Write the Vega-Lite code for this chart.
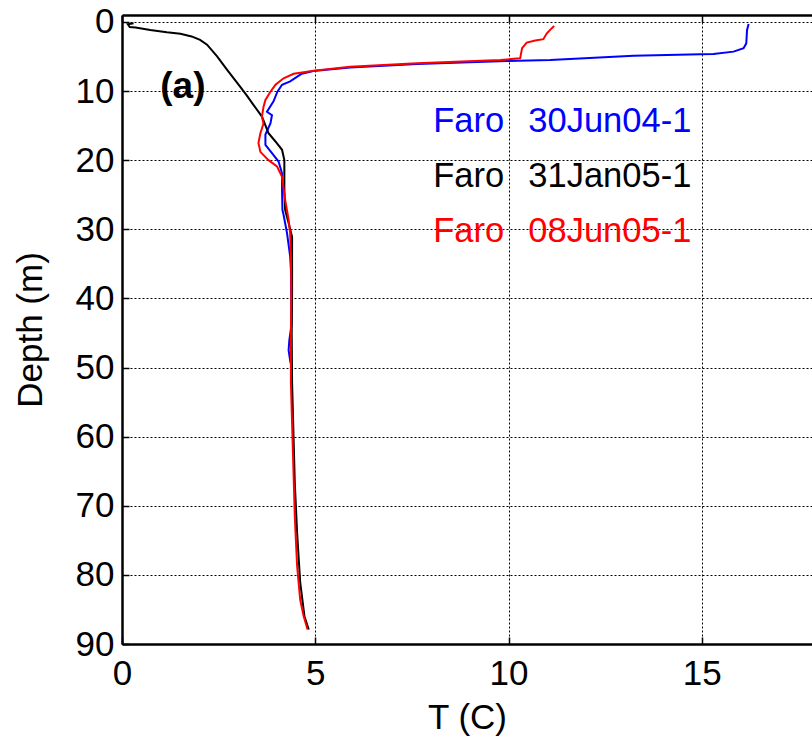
{
  "$schema": "https://vega.github.io/schema/vega-lite/v6.json",
  "width": 690,
  "height": 629,
  "autosize": {"type": "none"},
  "padding": {"left": 122, "top": 15, "right": 0, "bottom": 102},
  "background": "white",
  "config": {
    "view": {"stroke": null},
    "font": "Liberation Sans",
    "axis": {
      "labelFont": "Liberation Sans",
      "labelFontSize": 35,
      "labelColor": "black",
      "labelFlush": false,
      "labelOverlap": false,
      "titleFont": "Liberation Sans",
      "titleFontSize": 35,
      "titleFontWeight": "normal",
      "titleColor": "black",
      "domainColor": "black",
      "domainWidth": 2.5,
      "tickColor": "black",
      "tickWidth": 1.5,
      "tickSize": -7,
      "gridColor": "black",
      "gridDash": [2, 2],
      "gridWidth": 1,
      "gridOpacity": 1
    }
  },
  "datasets": {
    "profiles": [
      {"cast": "30Jun04-1", "T": 16.21, "depth": 0.3},
      {"cast": "30Jun04-1", "T": 16.17, "depth": 1.17},
      {"cast": "30Jun04-1", "T": 16.15, "depth": 3.1},
      {"cast": "30Jun04-1", "T": 16.08, "depth": 3.8},
      {"cast": "30Jun04-1", "T": 15.82, "depth": 4.3},
      {"cast": "30Jun04-1", "T": 15.3, "depth": 4.64},
      {"cast": "30Jun04-1", "T": 14.96, "depth": 4.69},
      {"cast": "30Jun04-1", "T": 13.23, "depth": 4.88},
      {"cast": "30Jun04-1", "T": 11.08, "depth": 5.5},
      {"cast": "30Jun04-1", "T": 9.96, "depth": 5.65},
      {"cast": "30Jun04-1", "T": 7.64, "depth": 6.1},
      {"cast": "30Jun04-1", "T": 5.9, "depth": 6.6},
      {"cast": "30Jun04-1", "T": 4.95, "depth": 7.1},
      {"cast": "30Jun04-1", "T": 4.65, "depth": 7.5},
      {"cast": "30Jun04-1", "T": 4.35, "depth": 8.6},
      {"cast": "30Jun04-1", "T": 4.14, "depth": 9.1},
      {"cast": "30Jun04-1", "T": 4.02, "depth": 10.1},
      {"cast": "30Jun04-1", "T": 3.92, "depth": 11.5},
      {"cast": "30Jun04-1", "T": 3.75, "depth": 13.0},
      {"cast": "30Jun04-1", "T": 3.88, "depth": 13.5},
      {"cast": "30Jun04-1", "T": 3.84, "depth": 14.7},
      {"cast": "30Jun04-1", "T": 3.71, "depth": 16.3},
      {"cast": "30Jun04-1", "T": 3.71, "depth": 17.8},
      {"cast": "30Jun04-1", "T": 3.88, "depth": 19.0},
      {"cast": "30Jun04-1", "T": 4.05, "depth": 20.2},
      {"cast": "30Jun04-1", "T": 4.14, "depth": 21.9},
      {"cast": "30Jun04-1", "T": 4.14, "depth": 24.3},
      {"cast": "30Jun04-1", "T": 4.15, "depth": 27.2},
      {"cast": "30Jun04-1", "T": 4.18, "depth": 27.9},
      {"cast": "30Jun04-1", "T": 4.27, "depth": 30.6},
      {"cast": "30Jun04-1", "T": 4.35, "depth": 33.9},
      {"cast": "30Jun04-1", "T": 4.37, "depth": 35.9},
      {"cast": "30Jun04-1", "T": 4.38, "depth": 40.0},
      {"cast": "30Jun04-1", "T": 4.38, "depth": 44.0},
      {"cast": "30Jun04-1", "T": 4.33, "depth": 46.0},
      {"cast": "30Jun04-1", "T": 4.31, "depth": 47.5},
      {"cast": "30Jun04-1", "T": 4.35, "depth": 49.0},
      {"cast": "30Jun04-1", "T": 4.39, "depth": 50.0},
      {"cast": "31Jan05-1", "T": 0.3, "depth": 0.2},
      {"cast": "31Jan05-1", "T": 0.15, "depth": 0.35},
      {"cast": "31Jan05-1", "T": 0.2, "depth": 0.75},
      {"cast": "31Jan05-1", "T": 0.35, "depth": 0.8},
      {"cast": "31Jan05-1", "T": 0.73, "depth": 1.17},
      {"cast": "31Jan05-1", "T": 1.16, "depth": 1.5},
      {"cast": "31Jan05-1", "T": 1.51, "depth": 1.7},
      {"cast": "31Jan05-1", "T": 1.8, "depth": 2.1},
      {"cast": "31Jan05-1", "T": 2.02, "depth": 2.6},
      {"cast": "31Jan05-1", "T": 2.2, "depth": 3.3},
      {"cast": "31Jan05-1", "T": 2.46, "depth": 5.0},
      {"cast": "31Jan05-1", "T": 2.72, "depth": 6.95},
      {"cast": "31Jan05-1", "T": 3.06, "depth": 9.4},
      {"cast": "31Jan05-1", "T": 3.25, "depth": 10.8},
      {"cast": "31Jan05-1", "T": 3.4, "depth": 12.0},
      {"cast": "31Jan05-1", "T": 3.62, "depth": 13.7},
      {"cast": "31Jan05-1", "T": 3.79, "depth": 16.1},
      {"cast": "31Jan05-1", "T": 3.97, "depth": 17.3},
      {"cast": "31Jan05-1", "T": 4.14, "depth": 18.5},
      {"cast": "31Jan05-1", "T": 4.2, "depth": 20.0},
      {"cast": "31Jan05-1", "T": 4.2, "depth": 24.3},
      {"cast": "31Jan05-1", "T": 4.22, "depth": 27.2},
      {"cast": "31Jan05-1", "T": 4.31, "depth": 29.1},
      {"cast": "31Jan05-1", "T": 4.4, "depth": 31.1},
      {"cast": "31Jan05-1", "T": 4.4, "depth": 33.9},
      {"cast": "31Jan05-1", "T": 4.4, "depth": 38.8},
      {"cast": "31Jan05-1", "T": 4.39, "depth": 45.0},
      {"cast": "31Jan05-1", "T": 4.4, "depth": 52.2},
      {"cast": "31Jan05-1", "T": 4.47, "depth": 66.7},
      {"cast": "31Jan05-1", "T": 4.53, "depth": 73.9},
      {"cast": "31Jan05-1", "T": 4.61, "depth": 81.1},
      {"cast": "31Jan05-1", "T": 4.72, "depth": 86.0},
      {"cast": "31Jan05-1", "T": 4.83, "depth": 87.9},
      {"cast": "08Jun05-1", "T": 11.18, "depth": 0.6},
      {"cast": "08Jun05-1", "T": 11.12, "depth": 0.9},
      {"cast": "08Jun05-1", "T": 10.99, "depth": 1.65},
      {"cast": "08Jun05-1", "T": 10.9, "depth": 2.5},
      {"cast": "08Jun05-1", "T": 10.69, "depth": 2.7},
      {"cast": "08Jun05-1", "T": 10.47, "depth": 3.0},
      {"cast": "08Jun05-1", "T": 10.35, "depth": 3.8},
      {"cast": "08Jun05-1", "T": 10.3, "depth": 5.27},
      {"cast": "08Jun05-1", "T": 9.79, "depth": 5.5},
      {"cast": "08Jun05-1", "T": 7.63, "depth": 5.99},
      {"cast": "08Jun05-1", "T": 5.9, "depth": 6.5},
      {"cast": "08Jun05-1", "T": 4.96, "depth": 7.05},
      {"cast": "08Jun05-1", "T": 4.44, "depth": 7.5},
      {"cast": "08Jun05-1", "T": 4.18, "depth": 8.15},
      {"cast": "08Jun05-1", "T": 3.97, "depth": 9.1},
      {"cast": "08Jun05-1", "T": 3.84, "depth": 10.1},
      {"cast": "08Jun05-1", "T": 3.71, "depth": 11.3},
      {"cast": "08Jun05-1", "T": 3.66, "depth": 12.3},
      {"cast": "08Jun05-1", "T": 3.62, "depth": 13.7},
      {"cast": "08Jun05-1", "T": 3.66, "depth": 14.7},
      {"cast": "08Jun05-1", "T": 3.58, "depth": 16.1},
      {"cast": "08Jun05-1", "T": 3.53, "depth": 17.5},
      {"cast": "08Jun05-1", "T": 3.58, "depth": 18.8},
      {"cast": "08Jun05-1", "T": 3.79, "depth": 20.0},
      {"cast": "08Jun05-1", "T": 4.01, "depth": 20.9},
      {"cast": "08Jun05-1", "T": 4.14, "depth": 22.4},
      {"cast": "08Jun05-1", "T": 4.22, "depth": 25.7},
      {"cast": "08Jun05-1", "T": 4.31, "depth": 28.6},
      {"cast": "08Jun05-1", "T": 4.35, "depth": 30.6},
      {"cast": "08Jun05-1", "T": 4.37, "depth": 33.9},
      {"cast": "08Jun05-1", "T": 4.38, "depth": 38.8},
      {"cast": "08Jun05-1", "T": 4.37, "depth": 45.0},
      {"cast": "08Jun05-1", "T": 4.37, "depth": 52.2},
      {"cast": "08Jun05-1", "T": 4.42, "depth": 61.9},
      {"cast": "08Jun05-1", "T": 4.47, "depth": 71.5},
      {"cast": "08Jun05-1", "T": 4.53, "depth": 78.7},
      {"cast": "08Jun05-1", "T": 4.61, "depth": 83.6},
      {"cast": "08Jun05-1", "T": 4.7, "depth": 86.0},
      {"cast": "08Jun05-1", "T": 4.8, "depth": 87.9}
    ],
    "casts": [
      {"cast": "30Jun04-1", "site": "Faro", "depth": 15.96},
      {"cast": "31Jan05-1", "site": "Faro", "depth": 23.82},
      {"cast": "08Jun05-1", "site": "Faro", "depth": 31.77}
    ]
  },
  "layer": [
    {
      "data": {"name": "profiles"},
      "mark": {"type": "line", "strokeWidth": 2},
      "encoding": {
        "x": {
          "field": "T", "type": "quantitative",
          "scale": {"domain": [0, 17.85], "nice": false, "zero": false},
          "axis": {
            "orient": "bottom", "values": [0, 5, 10, 15], "grid": true,
            "labelPadding": 19, "title": "T (C)", "titlePadding": 9
          }
        },
        "y": {
          "field": "depth", "type": "quantitative",
          "scale": {"domain": [-1, 90], "reverse": true, "nice": false, "zero": false},
          "title": "Depth (m)",
          "axis": {
            "values": [0, 10, 20, 30, 40, 50, 60, 70, 80, 90], "grid": true,
            "labelPadding": 15, "titlePadding": 27
          }
        },
        "color": {
          "field": "cast", "type": "nominal",
          "scale": {"domain": ["30Jun04-1", "31Jan05-1", "08Jun05-1"], "range": ["#0000ff", "#000000", "#ff0000"]},
          "legend": null
        },
        "order": {"field": "depth", "type": "quantitative"}
      }
    },
    {
      "data": {"name": "casts"},
      "mark": {"type": "text", "align": "left", "baseline": "alphabetic", "fontSize": 34.5},
      "encoding": {
        "x": {
          "datum": 8.05, "type": "quantitative",
          "axis": {"orient": "top", "values": [0, 5, 10, 15], "labels": false, "grid": false, "title": null}
        },
        "y": {"field": "depth", "type": "quantitative", "title": "Depth (m)"},
        "text": {"field": "site"},
        "color": {"field": "cast", "type": "nominal", "legend": null}
      }
    },
    {
      "data": {"name": "casts"},
      "mark": {"type": "text", "align": "left", "baseline": "alphabetic", "fontSize": 34.5},
      "encoding": {
        "x": {"datum": 10.51, "type": "quantitative", "axis": null},
        "y": {"field": "depth", "type": "quantitative", "title": "Depth (m)"},
        "text": {"field": "cast"},
        "color": {"field": "cast", "type": "nominal", "legend": null}
      }
    },
    {
      "data": {"values": [{"panel": "(a)"}]},
      "mark": {"type": "text", "align": "left", "baseline": "alphabetic", "fontSize": 37, "fontWeight": "bold", "color": "black"},
      "encoding": {
        "x": {"datum": 0.99, "type": "quantitative", "axis": null},
        "y": {"datum": 11.0, "type": "quantitative", "title": "Depth (m)"},
        "text": {"field": "panel"}
      }
    }
  ],
  "resolve": {"axis": {"x": "independent"}}
}
